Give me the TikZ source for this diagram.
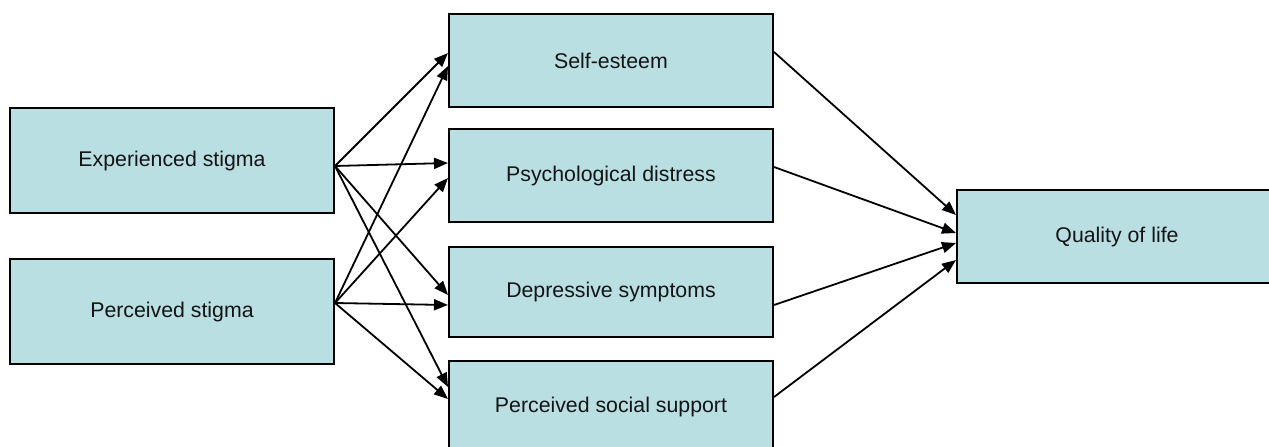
\documentclass[tikz,border=0pt]{standalone}
\usepackage{fontspec}
\setmainfont{Liberation Sans}
\usetikzlibrary{arrows.meta}
\definecolor{boxfill}{RGB}{185,223,226}
\definecolor{txt}{RGB}{20,20,20}
\begin{document}
\begin{tikzpicture}[x=1pt,y=-1pt,
  box/.style={draw=black,line width=2pt,fill=boxfill,rectangle,inner sep=0pt,
    text=txt,font=\fontsize{21.3}{25}\selectfont},
  arr/.style={line width=1.8pt,-{Triangle[length=14pt,width=11pt]}},
  ]
\useasboundingbox (0,0) rectangle (1269,447);
\node[box,minimum width=324pt,minimum height=105pt] (exp) at (172,160.5) {Experienced stigma};
\node[box,minimum width=324pt,minimum height=105pt] (per) at (172,311.5) {Perceived stigma};
\node[box,minimum width=324pt,minimum height=93pt] (self) at (611,60.5) {Self-esteem};
\node[box,minimum width=324pt,minimum height=93pt] (psy) at (611,175.5) {Psychological distress};
\node[box,minimum width=324pt,minimum height=90pt] (dep) at (611,292) {Depressive symptoms};
\node[box,minimum width=324pt,minimum height=92pt] (soc) at (611,407) {Perceived social support};
\node[box,minimum width=320pt,minimum height=93pt] (qol) at (1117,236.5) {Quality of life};

\coordinate (e) at ([yshift=-5.5pt]exp.east);
\coordinate (p) at ([yshift=8.5pt]per.east);

\draw[arr] (e) -- ([yshift=7.5pt]self.west);
\draw[arr] (p) -- ([yshift=-5.5pt]self.west);
\draw[arr] (e) -- ([yshift=12.5pt]psy.west);
\draw[arr] (p) -- ([yshift=-2.5pt]psy.west);
\draw[arr] (e) -- ([yshift=-3pt]dep.west);
\draw[arr] (p) -- ([yshift=-13pt]dep.west);
\draw[arr] (e) -- ([yshift=20pt]soc.west);
\draw[arr] (p) -- ([yshift=8pt]soc.west);

\draw[arr] ([yshift=8.5pt]self.east) -- ([yshift=21.5pt]qol.west);
\draw[arr] ([yshift=8.5pt]psy.east) -- ([yshift=3.5pt]qol.west);
\draw[arr] ([yshift=-13pt]dep.east) -- ([yshift=-6.5pt]qol.west);
\draw[arr] ([yshift=10pt]soc.east) -- ([yshift=-23.5pt]qol.west);
\end{tikzpicture}
\end{document}
